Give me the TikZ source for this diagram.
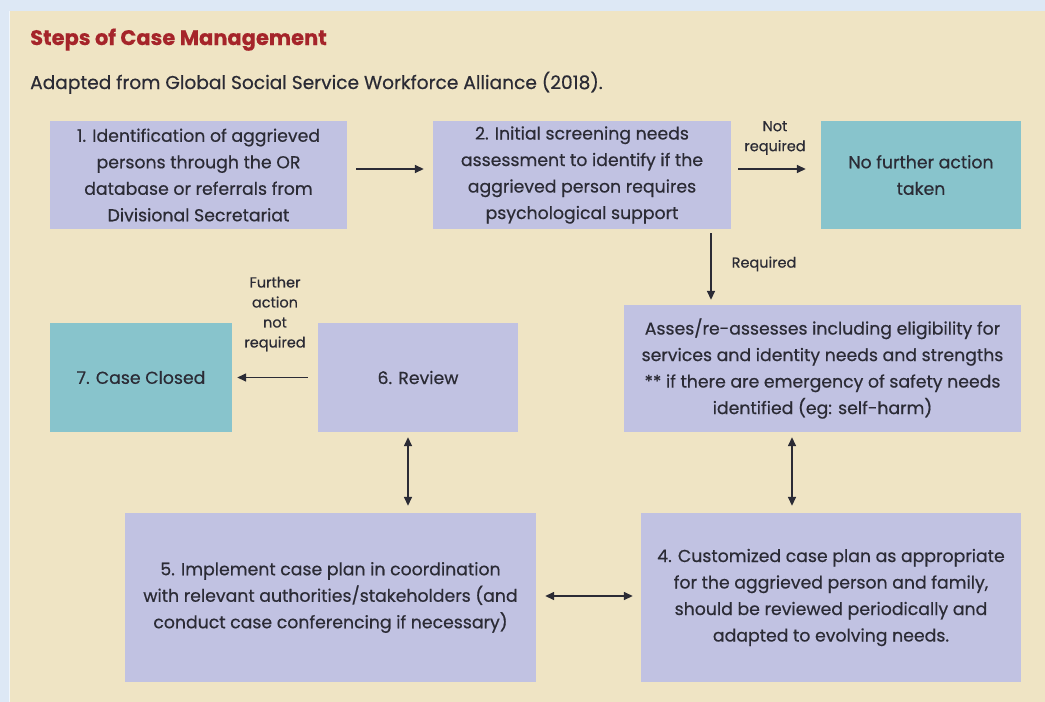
\documentclass[tikz,border=0pt]{standalone}
\usepackage{fontspec}
\setmainfont{Poppins}[FakeBold=0.5]
\usetikzlibrary{positioning, arrows.meta}

\definecolor{pageblue}{HTML}{DDE8F5}
\definecolor{panelbeige}{HTML}{EFE4C4}
\definecolor{steplav}{HTML}{C1C2E2}
\definecolor{endteal}{HTML}{88C4CC}
\definecolor{titlered}{HTML}{A5242A}
\definecolor{inktext}{HTML}{2B2B35}

\tikzset{
    stepbox/.style={
        rectangle,
        fill=steplav,
        text=inktext,
        align=center,
        inner sep=4pt,
        font=\fontsize{17.3}{26.5}\selectfont
    },
    endbox/.style={
        stepbox,
        fill=endteal
    },
    flow/.style={
        -{Triangle[length=9pt, width=8pt]},
        line width=1.5pt,
        draw=inktext
    },
    twoway/.style={
        flow,
        {Triangle[length=9pt, width=8pt]}-{Triangle[length=9pt, width=8pt]}
    },
    note/.style={
        text=inktext,
        align=center,
        font=\fontsize{14.5}{20}\selectfont
    }
}

\begin{document}
\begin{tikzpicture}[x=1pt, y=-1pt]
    % page and panel
    \fill[pageblue] (0,0) rectangle (1045,702);
    \fill[white!60!pageblue] (9,11) rectangle (1045,702);
    \fill[panelbeige] (10,11) rectangle (1045,702);
    \useasboundingbox (0,0) rectangle (1045,702);

    % heading
    \node[
        anchor=base west,
        text=titlered,
        inner sep=0pt,
        font=\fontsize{21}{24}\selectfont\bfseries
    ] (title) at (30,45) {Steps of Case Management};
    \node[
        anchor=base west,
        text=inktext,
        inner sep=0pt,
        font=\fontsize{18.6}{22}\selectfont
    ] (source) at (30,89) {Adapted from Global Social Service Workforce Alliance (2018).};

    % top row
    \node[stepbox, minimum width=297pt, minimum height=108pt] (identify) at (198.5,175)
        {1. Identification of aggrieved\\persons through the OR\\database or referrals from\\Divisional Secretariat};
    \node[stepbox, minimum width=298pt, minimum height=108pt] (screen) at (582,175)
        {2. Initial screening needs\\assessment to identify if the\\aggrieved person requires\\psychological support};
    \node[endbox, minimum width=200pt, minimum height=108pt] (noaction) at (921,175)
        {No further action\\taken};

    % middle row
    \node[stepbox, minimum width=397pt, minimum height=127pt] (assess) at (822.5,368.5)
        {Asses/re-assesses including eligibility for\\services and identity needs and strengths\\** if there are emergency of safety needs\\identified (eg: self-harm)};
    \node[stepbox, minimum width=200pt, minimum height=109pt] (review) at (418,377.5)
        {6. Review};
    \node[endbox, minimum width=182pt, minimum height=109pt] (closed) at (141,377.5)
        {7. Case Closed};

    % bottom row
    \node[stepbox, minimum width=411pt, minimum height=169pt] (implement) at (330.5,597.5)
        {5. Implement case plan in coordination\\with relevant authorities/stakeholders (and\\conduct case conferencing if necessary)};
    \node[stepbox, minimum width=380pt, minimum height=169pt] (caseplan) at (831,597.5)
        {4. Customized case plan as appropriate\\for the aggrieved person and family,\\should be reviewed periodically and\\adapted to evolving needs.};

    % connectors
    \draw[flow, shorten <=9pt, shorten >=9pt]
        ([yshift=6pt]identify.east) -- ([yshift=6pt]screen.west);
    \draw[flow, shorten <=7pt, shorten >=15pt]
        ([yshift=6pt]screen.east) -- ([yshift=6pt]noaction.west);
    \draw[flow, shorten <=4pt, shorten >=5pt]
        ([xshift=129pt]screen.south) -- ([xshift=129pt]screen.south |- assess.north);
    \draw[flow, shorten <=10pt, shorten >=5pt]
        (review.west) -- (closed.east);
    \draw[twoway, shorten <=5pt, shorten >=7pt]
        ([xshift=-10pt]review.south) -- ([xshift=-10pt]review.south |- implement.north);
    \draw[twoway, shorten <=5pt, shorten >=7pt]
        ([xshift=-30.5pt]assess.south) -- ([xshift=-30.5pt]assess.south |- caseplan.north);
    \draw[twoway, shorten <=9pt, shorten >=8pt]
        ([yshift=1.5pt]implement.east) -- ([yshift=1.5pt]caseplan.west);

    % connector labels
    \node[note] (notreq) at (775,138) {Not\\required};
    \node[note] (req) at (764,264) {Required};
    \node[note] (furthernot) at (275,314) {Further\\action\\not\\required};
\end{tikzpicture}
\end{document}
